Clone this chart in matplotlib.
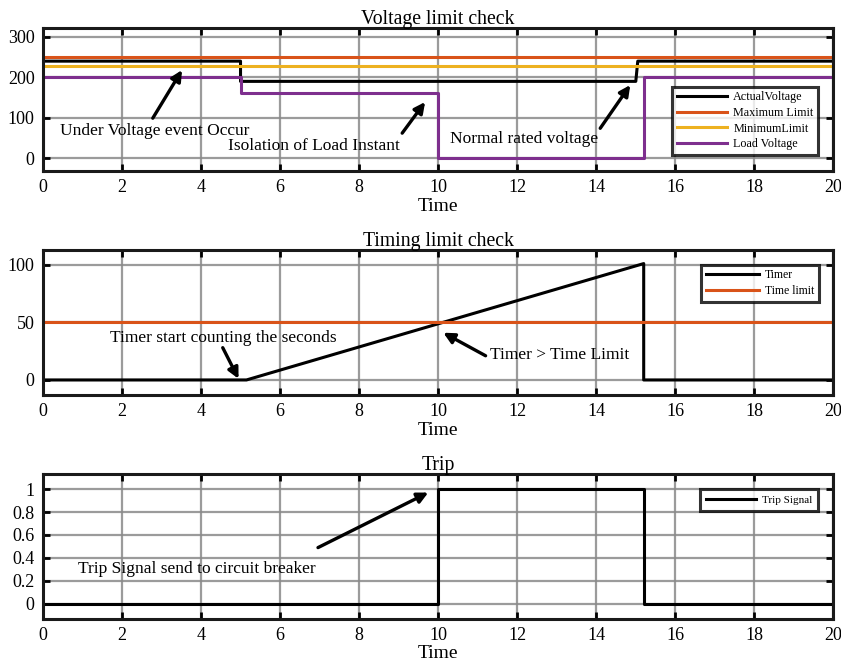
import matplotlib
matplotlib.use("Agg")
import matplotlib.pyplot as plt

# ---- data ----
t_actual = [0, 5, 5, 15, 15.05, 20]
v_actual = [240, 240, 190, 190, 240, 240]
t_load = [0, 0, 5, 5, 10, 10, 15.2, 15.2, 20]
v_load = [0, 200, 200, 160, 160, 0, 0, 200, 200]
t_limits = [0, 20]
v_max = [250, 250]
v_min = [228, 228]

t_timer = [0, 5.15, 15.2, 15.2, 20]
v_timer = [0, 0, 101, 0, 0]
v_tlimit = [50, 50]

t_trip = [0, 10, 10, 15.2, 15.2, 20]
v_trip = [0, 0, 1, 1, 0, 0]

xticks = list(range(0, 21, 2))
yticks_top = [0, 100, 200, 300]
yticks_mid = [0, 50, 100]
yticks_bot = [0, 0.2, 0.4, 0.6, 0.8, 1]
ytick_bot_labels = ["0", "0.2", "0.4", "0.6", "0.8", "1"]

C_BLACK = "#000000"
C_ORANGE = "#D95319"
C_YELLOW = "#EDB120"
C_PURPLE = "#7E2F8E"

plt.rcParams['font.family'] = ['Liberation Serif', 'DejaVu Serif']

fig = plt.figure(figsize=(8.41, 6.66), dpi=100)
L, W = 0.051, 0.940
ax1 = fig.add_axes([L, 0.743, W, 0.215])
ax2 = fig.add_axes([L, 0.407, W, 0.218])
ax3 = fig.add_axes([L, 0.071, W, 0.217])

def style(ax, yt, ylim, title, ylabels=None):
    ax.set_xlim(0, 20)
    ax.set_ylim(*ylim)
    ax.set_xticks(xticks)
    ax.set_yticks(yt)
    if ylabels is not None:
        ax.set_yticklabels(ylabels)
    ax.grid(True, color="#8a8a8a", lw=1.6, alpha=0.85)
    ax.set_axisbelow(True)
    for s in ax.spines.values():
        s.set_linewidth(2.2)
        s.set_color("#1a1a1a")
    ax.tick_params(direction='in', top=True, right=True, length=5, width=2,
                   labelsize=13, pad=6)
    ax.set_title(title, fontsize=14.2, pad=3)
    ax.set_xlabel("Time", fontsize=14, labelpad=1)

def legend(ax, loc, anchor, fs, hl, bp, ls):
    leg = ax.legend(loc=loc, bbox_to_anchor=anchor, fontsize=fs,
                    frameon=True, fancybox=False, edgecolor='k', handlelength=hl,
                    borderpad=bp, labelspacing=ls, handletextpad=0.5,
                    borderaxespad=0)
    leg.get_frame().set_linewidth(2.2)
    return leg

ARW = dict(arrowstyle='-|>', lw=2.4, color='k', mutation_scale=16,
           shrinkA=0, shrinkB=0)

# ---- top ----
ax1.plot(t_actual, v_actual, color=C_BLACK, lw=2.2, label="ActualVoltage")
ax1.plot(t_limits, v_max, color=C_ORANGE, lw=2.2, label="Maximum Limit")
ax1.plot(t_limits, v_min, color=C_YELLOW, lw=2.2, label="MinimumLimit")
ax1.plot(t_load, v_load, color=C_PURPLE, lw=2.2, label="Load Voltage")
style(ax1, yticks_top, (-32, 322), "Voltage limit check")
legend(ax1, 'lower right', (0.981, 0.112), 8.7, 4.2, 0.4, 0.3)
ax1.annotate("", xy=(3.52, 218), xytext=(2.78, 99), arrowprops=ARW)
ax1.text(0.43, 67, "Under Voltage event Occur", fontsize=12.5, va='center', ha='left')
ax1.annotate("", xy=(9.67, 139), xytext=(9.09, 62), arrowprops=ARW)
ax1.text(4.68, 30, "Isolation of Load Instant", fontsize=12.5, va='center', ha='left')
ax1.annotate("", xy=(14.86, 181), xytext=(14.1, 74), arrowprops=ARW)
ax1.text(10.3, 47, "Normal rated voltage", fontsize=12.5, va='center', ha='left')

# ---- middle ----
ax2.plot(t_timer, v_timer, color=C_BLACK, lw=2.2, label="Timer")
ax2.plot(t_limits, v_tlimit, color=C_ORANGE, lw=2.2, label="Time limit")
style(ax2, yticks_mid, (-13, 113), "Timing limit check")
legend(ax2, 'upper right', (0.982, 0.897), 8.5, 4.5, 0.4, 0.3)
ax2.annotate("", xy=(4.95, 1), xytext=(4.55, 28), arrowprops=ARW)
ax2.text(1.7, 36, "Timer start counting the seconds", fontsize=12.5, va='center', ha='left')
ax2.annotate("", xy=(10.13, 41), xytext=(11.2, 21), arrowprops=ARW)
ax2.text(11.3, 22, "Timer > Time Limit", fontsize=12.5, va='center', ha='left')

# ---- bottom ----
ax3.plot(t_trip, v_trip, color=C_BLACK, lw=2.2, label="Trip Signal")
style(ax3, yticks_bot, (-0.13, 1.13), "Trip", ytick_bot_labels)
legend(ax3, 'upper right', (0.981, 0.897), 8, 4.5, 0.55, 0.3)
ax3.annotate("", xy=(9.75, 0.97), xytext=(6.96, 0.49), arrowprops=ARW)
ax3.text(0.89, 0.30, "Trip Signal send to circuit breaker", fontsize=12.5, va='center', ha='left')

fig.savefig("out.png", dpi=100)
